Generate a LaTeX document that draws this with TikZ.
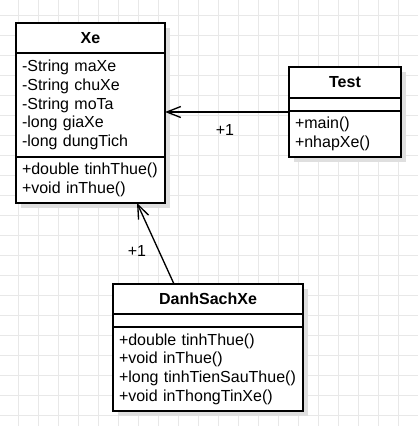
\documentclass[tikz,border=0pt]{standalone}
\usepackage{fontspec}
\setmainfont{Liberation Sans}
\usetikzlibrary{arrows.meta,calc,shadows}

\begin{document}
\begin{tikzpicture}[x=0.75pt, y=-0.75pt, line width=1pt,
	gridline/.style = {draw=gray!18, line width=0.75pt},
	frame/.style = {draw, fill=white, anchor=north west, inner sep=0, outer sep=0,
		drop shadow={fill=gray!25, opacity=1, shadow xshift=3.75pt, shadow yshift=-3.75pt}},
	head/.style = {draw, anchor=north west, inner sep=0, outer sep=0, minimum height=22.5pt,
		font=\fontsize{12}{14}\selectfont\bfseries},
	part/.style = {draw, anchor=north west, inner xsep=4.5pt, inner ysep=0, outer sep=0, align=left,
		font=\fontsize{12}{14}\selectfont},
	lbl/.style = {inner sep=0, font=\fontsize{12}{14}\selectfont},
	assoc/.style = {-{Straight Barb[length=10.5pt, width=8.25pt]}}]
	\useasboundingbox (0,0) rectangle (418,426);
	\fill[white] (0,0) rectangle (418,426);
	% grid
	\foreach \gx in {18,38,...,418} \draw[gridline] (\gx,0) -- (\gx,426);
	\foreach \gy in {15,35,...,415} \draw[gridline] (0,\gy) -- (418,\gy);
	% Xe
	\node[frame, minimum width=111.75pt, minimum height=135pt] (xe) at (16,23) {};
	\node[head, minimum width=111.75pt] (xehead) at (xe.north west) {Xe};
	\node[part, text width=102.75pt, minimum height=78pt] (xeattr) at (xehead.south west)
		{-String maXe\\-String chuXe\\-String moTa\\-long giaXe\\-long dungTich};
	\node[part, text width=102.75pt, minimum height=34.5pt] (xeops) at (xeattr.south west)
		{+double tinhThue()\\+void inThue()};
	% Test
	\node[frame, minimum width=84pt, minimum height=67.5pt] (test) at (289,67) {};
	\node[head, minimum width=84pt, minimum height=23.25pt] (testhead) at (test.north west) {Test};
	\node[part, text width=75pt, minimum height=9.75pt] (testattr) at (testhead.south west) {};
	\node[part, text width=75pt, minimum height=34.5pt] (testops) at (testattr.south west)
		{+main()\\+nhapXe()};
	% DanhSachXe
	\node[frame, minimum width=142.5pt, minimum height=95.25pt] (dsx) at (113,284) {};
	\node[head, minimum width=142.5pt] (dsxhead) at (dsx.north west) {DanhSachXe};
	\node[part, text width=133.5pt, minimum height=9.75pt] (dsxattr) at (dsxhead.south west) {};
	\node[part, text width=133.5pt, minimum height=63pt] (dsxops) at (dsxattr.south west)
		{+double tinhThue()\\+void inThue()\\+long tinhTienSauThue()\\+void inThongTinXe()};
	% associations
	\draw[assoc] (test.west) -- (test.west -| xe.east);
	\draw[assoc] ($(dsx.north)+(-34,0)$) -- ($(xe.south)+(46.5,0)$);
	\node[lbl] (testmult) at (225,130) {+1};
	\node[lbl] (dsxmult) at (137,251) {+1};
\end{tikzpicture}
\end{document}
